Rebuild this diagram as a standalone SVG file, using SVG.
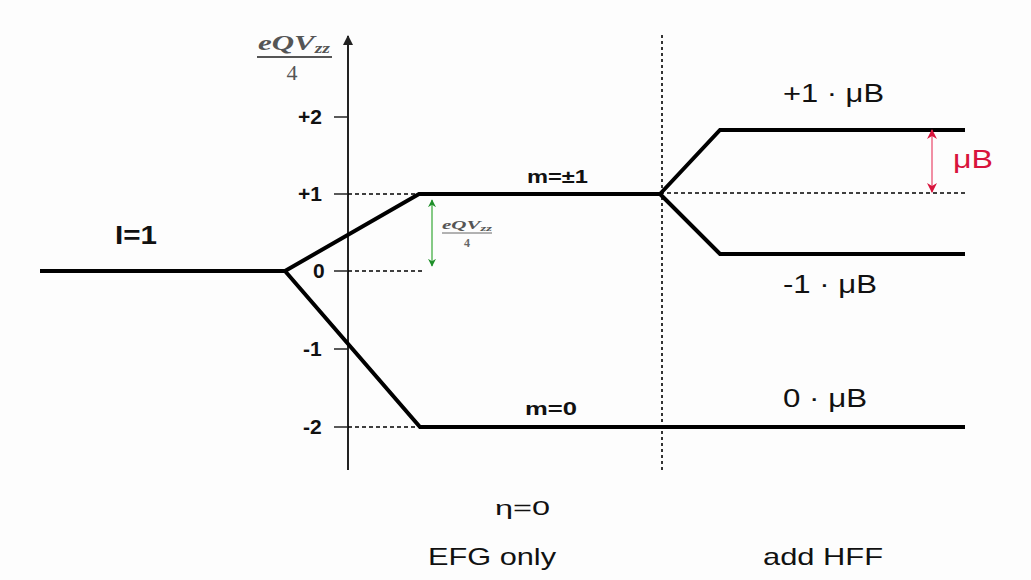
<svg xmlns="http://www.w3.org/2000/svg" width="1031" height="580" viewBox="0 0 1031 580">
<defs>
<style>
.lvl{fill:none;stroke:#000;stroke-width:4;stroke-linejoin:miter}
.dash{stroke:#000;stroke-width:1.4;stroke-dasharray:4 3;fill:none}
.vdot{stroke:#333;stroke-width:2;stroke-dasharray:3 3;fill:none}
.axis{stroke:#222;stroke-width:2;fill:none}
.tick{stroke:#222;stroke-width:1.5}
.lab{font-family:"Liberation Sans",Arial,sans-serif;fill:#111}
.b{font-weight:bold}
.math{font-family:"Liberation Serif","Times New Roman",serif;font-style:italic;font-weight:bold;fill:#555}
</style>
<marker id="ax" viewBox="0 0 10 10" refX="9" refY="5" markerWidth="5" markerHeight="5" orient="auto"><path d="M0,0 L10,5 L0,10 Z" fill="#222"/></marker>
<marker id="gr" viewBox="0 0 10 10" refX="9" refY="5" markerWidth="8" markerHeight="8" markerUnits="userSpaceOnUse" orient="auto-start-reverse"><path d="M0,0 L10,5 L0,10 L3,5 Z" fill="#1f8f2a"/></marker>
<marker id="rd" viewBox="0 0 10 10" refX="9" refY="5" markerWidth="10" markerHeight="10" markerUnits="userSpaceOnUse" orient="auto-start-reverse"><path d="M0,0 L10,5 L0,10 L3,5 Z" fill="#d8143c"/></marker>
</defs>
<rect width="1031" height="580" fill="#fdfdfd"/>

<g id="axis">
<line class="axis" x1="348" y1="470" x2="348" y2="36" marker-end="url(#ax)"/>
<line class="tick" x1="334" y1="117" x2="348" y2="117"/>
<line class="tick" x1="334" y1="194" x2="348" y2="194"/>
<line class="tick" x1="334" y1="271" x2="348" y2="271"/>
<line class="tick" x1="334" y1="349" x2="348" y2="349"/>
<line class="tick" x1="334" y1="427" x2="348" y2="427"/>
<text class="lab b" x="298" y="124" font-size="21">+2</text>
<text class="lab b" x="298" y="201" font-size="21">+1</text>
<text class="lab b" x="313" y="278" font-size="21">0</text>
<text class="lab b" x="303" y="356" font-size="21">-1</text>
<text class="lab b" x="303" y="434" font-size="21">-2</text>
<g id="axis-label">
<text class="math" x="258" y="50" font-size="22" textLength="72" lengthAdjust="spacingAndGlyphs">eQV<tspan font-size="14" dy="3">zz</tspan></text>
<line x1="257" y1="57" x2="332" y2="57" stroke="#555" stroke-width="2"/>
<text x="292" y="80" font-size="22" text-anchor="middle" font-family="Liberation Serif, serif" fill="#555">4</text>
</g>
</g>

<g id="connectors">
<line class="dash" x1="348" y1="194" x2="418" y2="194"/>
<line class="dash" x1="348" y1="271" x2="422" y2="271"/>
<line class="dash" x1="348" y1="427" x2="420" y2="427"/>
<line class="dash" x1="660" y1="193" x2="965" y2="193"/>
<line class="vdot" x1="662" y1="35" x2="662" y2="470"/>
</g>

<g id="I1">
<polyline class="lvl" points="40,271 285,271"/>
<text class="lab b" x="115" y="244" font-size="26" textLength="42" lengthAdjust="spacingAndGlyphs">I=1</text>
</g>

<g id="m1">
<polyline class="lvl" points="285,271 419,194 660,194"/>
<text class="lab b" x="527" y="183" font-size="19" textLength="61" lengthAdjust="spacingAndGlyphs">m=±1</text>
</g>

<g id="m0">
<polyline class="lvl" points="285,271 420,427 965,427"/>
<text class="lab b" x="525" y="415" font-size="19" textLength="52" lengthAdjust="spacingAndGlyphs">m=0</text>
</g>

<g id="plus1">
<polyline class="lvl" points="660,194 720,130 965,130"/>
<text class="lab" x="783" y="102" font-size="25" textLength="101" lengthAdjust="spacingAndGlyphs">+1 · μB</text>
</g>

<g id="minus1">
<polyline class="lvl" points="660,194 720,254 965,254"/>
<text class="lab" x="783" y="293" font-size="25" textLength="94" lengthAdjust="spacingAndGlyphs">-1 · μB</text>
</g>

<g id="zero">
<text class="lab" x="783" y="407" font-size="25" textLength="84" lengthAdjust="spacingAndGlyphs">0 · μB</text>
</g>

<g id="efg-gap">
<line x1="432" y1="200" x2="432" y2="266" stroke="#5cb85c" stroke-width="1.5" marker-start="url(#gr)" marker-end="url(#gr)"/>
<text class="math" x="442" y="229" font-size="13" textLength="50" lengthAdjust="spacingAndGlyphs">eQV<tspan font-size="9" dy="2">zz</tspan></text>
<line x1="442" y1="233" x2="492" y2="233" stroke="#666" stroke-width="1"/>
<text x="467" y="247" font-size="12" text-anchor="middle" font-family="Liberation Serif, serif" font-weight="bold" fill="#666">4</text>
</g>

<g id="hff-gap">
<line x1="932" y1="130" x2="932" y2="192" stroke="#ec6a86" stroke-width="1.5" marker-start="url(#rd)" marker-end="url(#rd)"/>
<text x="953" y="168" font-size="25" font-family="Liberation Sans, Arial, sans-serif" fill="#d8143c" textLength="40" lengthAdjust="spacingAndGlyphs">μB</text>
</g>

<g id="captions">
<text class="lab" x="495" y="515" font-size="21" textLength="55" lengthAdjust="spacingAndGlyphs">η=0</text>
<text class="lab" x="428" y="565" font-size="24" textLength="128" lengthAdjust="spacingAndGlyphs">EFG only</text>
<text class="lab" x="763" y="565" font-size="24" textLength="120" lengthAdjust="spacingAndGlyphs">add HFF</text>
</g>
</svg>
